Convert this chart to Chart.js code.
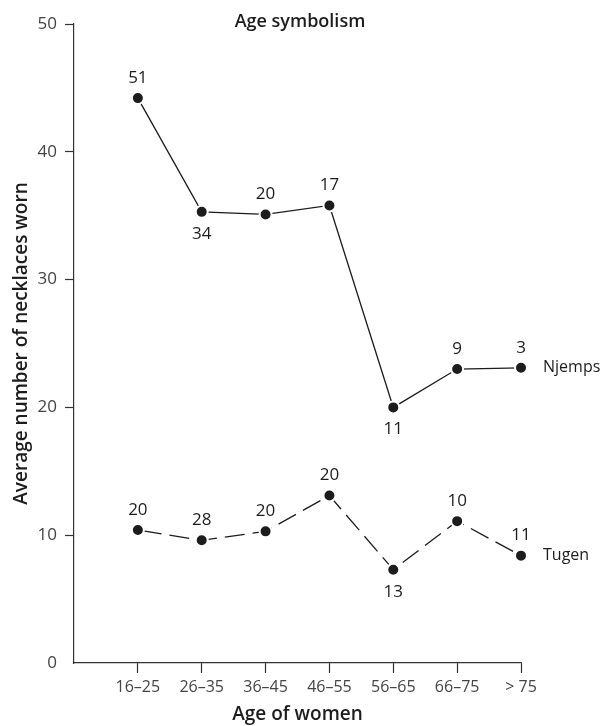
<!DOCTYPE html>
<html>
<head>
<meta charset="utf-8">
<script src="https://cdn.jsdelivr.net/npm/chart.js@4/dist/chart.umd.min.js"></script>
<style>
  body { margin: 0; background: #fff; }
  canvas { display: block; }
</style>
</head>
<body>
<canvas id="ageChart" width="600" height="726"></canvas>
<script>
const ageGroups = ["16–25", "26–35", "36–45", "46–55", "56–65", "66–75", "> 75"];
const njemps = [44.2, 35.3, 35.1, 35.8, 20.0, 23.0, 23.1];
const tugen = [10.4, 9.6, 10.3, 13.1, 7.3, 11.1, 8.4];
// sample sizes printed next to each point
const njempsN = [51, 34, 20, 17, 11, 9, 3];
const tugenN = [20, 28, 20, 20, 13, 10, 11];
const njempsSide = ["up", "down", "up", "up", "down", "up", "up"];
const tugenSide = ["up", "up", "up", "up", "down", "up", "up"];
const yTicks = [0, 10, 20, 30, 40, 50];

const ink = "#1c1c1c";
const font = "'Open Sans', 'Noto Sans', sans-serif";

const labelPlugin = {
  id: "pointLabels",
  afterDatasetsDraw(chart) {
    const ctx = chart.ctx;
    const sets = [
      { n: njempsN, side: njempsSide, name: "Njemps" },
      { n: tugenN, side: tugenSide, name: "Tugen" }
    ];
    ctx.save();
    ctx.fillStyle = ink;
    ctx.textBaseline = "middle";
    sets.forEach((s, i) => {
      const pts = chart.getDatasetMeta(i).data;
      ctx.font = "17px " + font;
      ctx.textAlign = "center";
      pts.forEach((p, j) => {
        const dy = s.side[j] === "up" ? -20 : 22;
        ctx.fillText(String(s.n[j]), p.x, p.y + dy);
      });
      const last = pts[pts.length - 1];
      ctx.font = "16px " + font;
      ctx.textAlign = "left";
      ctx.fillText(s.name, last.x + 22, last.y);
    });
    // title sits inside the plot
    ctx.font = "600 18px " + font;
    ctx.textAlign = "center";
    ctx.fillText("Age symbolism", 300, 22);
    ctx.restore();
  }
};

const pointStyle = {
  pointBackgroundColor: ink,
  pointBorderColor: "#fff",
  pointBorderWidth: 2,
  pointRadius: 6,
  borderColor: ink,
  borderWidth: 1.3,
  tension: 0,
  clip: false
};

new Chart(document.getElementById("ageChart"), {
  type: "line",
  data: {
    datasets: [
      {
        label: "Njemps",
        data: njemps.map((v, i) => ({ x: i, y: v })),
        ...pointStyle
      },
      {
        label: "Tugen",
        data: tugen.map((v, i) => ({ x: i, y: v })),
        borderDash: [20, 8],
        borderDashOffset: -4,
        ...pointStyle
      }
    ]
  },
  options: {
    responsive: false,
    animation: false,
    layout: { padding: { left: 0, right: 79, top: 24, bottom: 0 } },
    plugins: {
      legend: { display: false },
      tooltip: { enabled: false }
    },
    scales: {
      x: {
        type: "linear",
        min: -1,
        max: ageGroups.length - 1,
        afterFit: s => { s.height = 63; },
        afterBuildTicks: s => { s.ticks = [-1, 0, 1, 2, 3, 4, 5, 6].map(v => ({ value: v })); },
        border: { color: "#333", width: 1.2 },
        grid: {
          drawOnChartArea: false,
          tickLength: 10,
          tickWidth: 1.2,
          tickColor: c => (c.tick && c.tick.value === -1 ? "rgba(0,0,0,0)" : "#333")
        },
        ticks: {
          padding: 5,
          color: "#444",
          font: { family: font, size: 16 },
          maxRotation: 0,
          autoSkip: false,
          callback: v => (ageGroups[v] !== undefined ? ageGroups[v] : "")
        },
        title: {
          display: true,
          text: "Age of women",
          color: ink,
          font: { family: font, size: 19, weight: "600" },
          padding: { top: 0, bottom: 0 }
        }
      },
      y: {
        min: yTicks[0],
        max: yTicks[yTicks.length - 1],
        afterFit: s => { s.width = 74; },
        afterBuildTicks: s => { s.ticks = yTicks.map(v => ({ value: v })); },
        border: { color: "#333", width: 1.2 },
        grid: {
          drawOnChartArea: false,
          tickLength: 9,
          tickWidth: 1.2,
          tickColor: c => (c.tick && c.tick.value === 0 ? "rgba(0,0,0,0)" : "#333")
        },
        ticks: {
          padding: 8,
          color: "#444",
          font: { family: font, size: 17 }
        },
        title: {
          display: true,
          text: "Average number of necklaces worn",
          color: ink,
          font: { family: font, size: 19, weight: "600" },
          padding: { top: 10, bottom: 0 }
        }
      }
    }
  },
  plugins: [labelPlugin]
});
</script>
</body>
</html>
